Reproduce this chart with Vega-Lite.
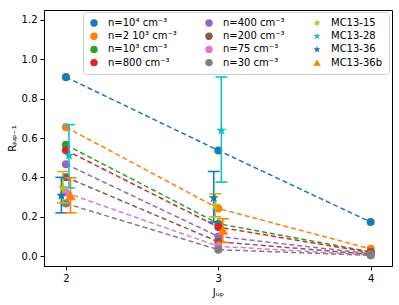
{
  "$schema": "https://vega.github.io/schema/vega-lite/v6.json",
  "width": 348,
  "height": 256,
  "autosize": {"type": "none"},
  "padding": {"left": 44, "top": 10, "right": 7, "bottom": 39},
  "config": {
    "font": "DejaVu Sans",
    "view": {"stroke": "black", "strokeWidth": 1},
    "axis": {"domainColor": "black", "tickColor": "black", "tickSize": 4, "labelColor": "black", "labelFontSize": 10, "grid": false, "titleFontSize": 10, "titleFontWeight": "normal", "titleColor": "black", "labelPadding": 3},
    "legend": {"columns": 3, "symbolSize": 55, "labelFontSize": 10, "labelColor": "black", "rowPadding": 3.2, "columnPadding": 27, "strokeColor": "#cccccc", "padding": 6, "fillColor": "white", "cornerRadius": 3, "labelOffset": 9, "symbolStrokeWidth": 0}
  },
  "datasets": {
    "models": [
      {"series": "n=10⁴ cm⁻³", "J": 2, "R": 0.909}, {"series": "n=10⁴ cm⁻³", "J": 3, "R": 0.537}, {"series": "n=10⁴ cm⁻³", "J": 4, "R": 0.173},
      {"series": "n=2 10³ cm⁻³", "J": 2, "R": 0.655}, {"series": "n=2 10³ cm⁻³", "J": 3, "R": 0.242}, {"series": "n=2 10³ cm⁻³", "J": 4, "R": 0.037},
      {"series": "n=10³ cm⁻³", "J": 2, "R": 0.565}, {"series": "n=10³ cm⁻³", "J": 3, "R": 0.165}, {"series": "n=10³ cm⁻³", "J": 4, "R": 0.022},
      {"series": "n=800 cm⁻³", "J": 2, "R": 0.538}, {"series": "n=800 cm⁻³", "J": 3, "R": 0.148}, {"series": "n=800 cm⁻³", "J": 4, "R": 0.018},
      {"series": "n=400 cm⁻³", "J": 2, "R": 0.467}, {"series": "n=400 cm⁻³", "J": 3, "R": 0.100}, {"series": "n=400 cm⁻³", "J": 4, "R": 0.012},
      {"series": "n=200 cm⁻³", "J": 2, "R": 0.401}, {"series": "n=200 cm⁻³", "J": 3, "R": 0.073}, {"series": "n=200 cm⁻³", "J": 4, "R": 0.009},
      {"series": "n=75 cm⁻³", "J": 2, "R": 0.322}, {"series": "n=75 cm⁻³", "J": 3, "R": 0.050}, {"series": "n=75 cm⁻³", "J": 4, "R": 0.006},
      {"series": "n=30 cm⁻³", "J": 2, "R": 0.267}, {"series": "n=30 cm⁻³", "J": 3, "R": 0.033}, {"series": "n=30 cm⁻³", "J": 4, "R": 0.004}
    ],
    "obs": [
      {"series": "MC13-15", "J": 1.98, "R": 0.347, "lo": 0.271, "hi": 0.43},
      {"series": "MC13-15", "J": 2.98, "R": 0.257, "lo": 0.2, "hi": 0.317},
      {"series": "MC13-28", "J": 2.02, "R": 0.511, "lo": 0.347, "hi": 0.668},
      {"series": "MC13-28", "J": 3.02, "R": 0.638, "lo": 0.376, "hi": 0.91},
      {"series": "MC13-36", "J": 1.97, "R": 0.308, "lo": 0.22, "hi": 0.4},
      {"series": "MC13-36", "J": 2.97, "R": 0.296, "lo": 0.173, "hi": 0.43},
      {"series": "MC13-36b", "J": 2.03, "R": 0.308, "lo": 0.22, "hi": 0.398},
      {"series": "MC13-36b", "J": 3.03, "R": 0.132, "lo": 0.07, "hi": 0.19}
    ]
  },
  "layer": [
    {
      "data": {"name": "models"},
      "mark": {"type": "line", "strokeDash": [5, 3], "strokeWidth": 1.5},
      "encoding": {
        "x": {"field": "J", "type": "quantitative", "scale": {"domain": [1.856, 4.14], "nice": false, "zero": false}, "axis": {"values": [2, 3, 4], "format": "d", "title": "Jᵤₚ"}},
        "y": {"field": "R", "type": "quantitative", "scale": {"domain": [-0.05, 1.25], "nice": false, "zero": false}, "axis": {"values": [0, 0.2, 0.4, 0.6, 0.8, 1.0, 1.2], "format": ".1f", "title": "Rⱼᵤₚ₋₁"}},
        "stroke": {"field": "series", "type": "nominal", "legend": null,
          "scale": {"domain": ["n=10⁴ cm⁻³","n=400 cm⁻³","MC13-15","n=2 10³ cm⁻³","n=200 cm⁻³","MC13-28","n=10³ cm⁻³","n=75 cm⁻³","MC13-36","n=800 cm⁻³","n=30 cm⁻³","MC13-36b"],
            "range": ["#1f77b4","#9467bd","#bcbd22","#ff7f0e","#8c564b","#17becf","#2ca02c","#e377c2","#1f77b4","#d62728","#7f7f7f","#ff7f0e"]}},
        "detail": {"field": "series"}
      }
    },
    {
      "data": {"name": "models"},
      "mark": {"type": "point", "filled": true, "size": 65, "opacity": 1},
      "encoding": {
        "x": {"field": "J", "type": "quantitative"},
        "y": {"field": "R", "type": "quantitative"},
        "color": {"field": "series", "type": "nominal", "legend": {"title": null, "orient": "none", "legendX": 39, "legendY": 2},
          "scale": {"domain": ["n=10⁴ cm⁻³","n=2 10³ cm⁻³","n=10³ cm⁻³","n=800 cm⁻³","n=400 cm⁻³","n=200 cm⁻³","n=75 cm⁻³","n=30 cm⁻³","MC13-15","MC13-28","MC13-36","MC13-36b"],
            "range": ["#1f77b4","#ff7f0e","#2ca02c","#d62728","#9467bd","#8c564b","#e377c2","#7f7f7f","#bcbd22","#17becf","#1f77b4","#ff7f0e"]}},
        "shape": {"field": "series", "type": "nominal", "legend": {"title": null, "orient": "none", "legendX": 39, "legendY": 2},
          "scale": {"domain": ["n=10⁴ cm⁻³","n=2 10³ cm⁻³","n=10³ cm⁻³","n=800 cm⁻³","n=400 cm⁻³","n=200 cm⁻³","n=75 cm⁻³","n=30 cm⁻³","MC13-15","MC13-28","MC13-36","MC13-36b"],
            "range": ["circle","circle","circle","circle","circle","circle","circle","circle","M0,-1L0.235,-0.324L0.951,-0.309L0.38,0.124L0.588,0.809L0,0.4L-0.588,0.809L-0.38,0.124L-0.951,-0.309L-0.235,-0.324Z","M0,-1L0.235,-0.324L0.951,-0.309L0.38,0.124L0.588,0.809L0,0.4L-0.588,0.809L-0.38,0.124L-0.951,-0.309L-0.235,-0.324Z","M0,-1L0.235,-0.324L0.951,-0.309L0.38,0.124L0.588,0.809L0,0.4L-0.588,0.809L-0.38,0.124L-0.951,-0.309L-0.235,-0.324Z","triangle-up"]}}
      }
    },
    {
      "data": {"name": "obs"},
      "mark": {"type": "rule", "strokeWidth": 1.6},
      "encoding": {
        "x": {"field": "J", "type": "quantitative"},
        "y": {"field": "lo", "type": "quantitative"},
        "y2": {"field": "hi"},
        "stroke": {"field": "series", "type": "nominal", "legend": null}
      }
    },
    {
      "data": {"name": "obs"},
      "mark": {"type": "point", "shape": "M-1,0L1,0", "filled": false, "size": 144, "strokeWidth": 1.6, "opacity": 1},
      "encoding": {
        "x": {"field": "J", "type": "quantitative"},
        "y": {"field": "lo", "type": "quantitative"},
        "stroke": {"field": "series", "type": "nominal", "legend": null}
      }
    },
    {
      "data": {"name": "obs"},
      "mark": {"type": "point", "shape": "M-1,0L1,0", "filled": false, "size": 144, "strokeWidth": 1.6, "opacity": 1},
      "encoding": {
        "x": {"field": "J", "type": "quantitative"},
        "y": {"field": "hi", "type": "quantitative"},
        "stroke": {"field": "series", "type": "nominal", "legend": null}
      }
    },
    {
      "data": {"name": "obs"},
      "mark": {"type": "point", "filled": true, "size": 115, "opacity": 1},
      "encoding": {
        "x": {"field": "J", "type": "quantitative"},
        "y": {"field": "R", "type": "quantitative"},
        "color": {"field": "series", "type": "nominal"},
        "shape": {"field": "series", "type": "nominal"}
      }
    }
  ]
}
